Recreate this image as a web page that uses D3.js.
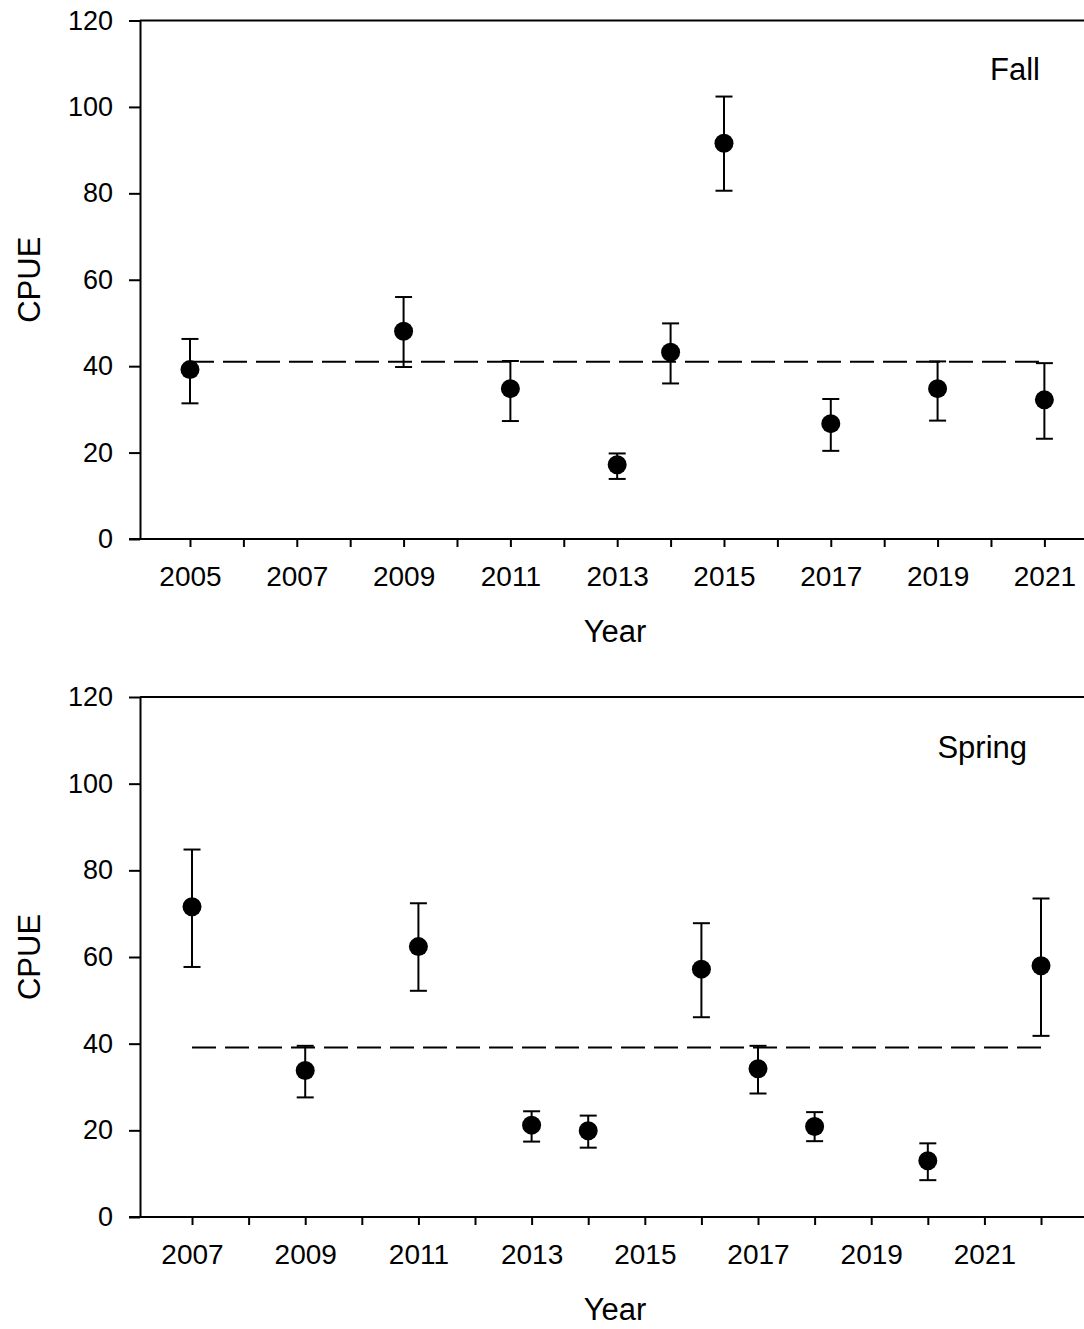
<!DOCTYPE html>
<html>
<head>
<meta charset="utf-8">
<script src="https://cdn.jsdelivr.net/npm/d3@7"></script>
<style>
  body { margin: 0; background: #fff; }
  svg { display: block; font-family: "Liberation Sans", Arial, sans-serif; }
</style>
</head>
<body>
<div id="chart"></div>
<script>
// Fall survey
let fallYears = [2005, 2009, 2011, 2013, 2014, 2015, 2017, 2019, 2021];
let fallMean  = [39.2, 48.1, 34.8, 17.2, 43.2, 91.6, 26.7, 34.8, 32.2];
let fallUpper = [46.3, 56.0, 41.2, 19.8, 49.9, 102.4, 32.4, 41.1, 40.7];
let fallLower = [31.4, 39.8, 27.3, 13.9, 36.0, 80.6, 20.4, 27.4, 23.2];
let fallAverage = 41;
let fallTicks = d3.range(2005, 2022);

// Spring survey
let springYears = [2007, 2009, 2011, 2013, 2014, 2016, 2017, 2018, 2020, 2022];
let springMean  = [71.6, 33.8, 62.4, 21.2, 19.9, 57.2, 34.2, 20.9, 13.0, 58.0];
let springUpper = [84.8, 39.5, 72.4, 24.4, 23.4, 67.8, 39.5, 24.2, 17.0, 73.5];
let springLower = [57.7, 27.6, 52.2, 17.4, 16.0, 46.1, 28.5, 17.5, 8.5, 41.8];
let springAverage = 39.1;
let springTicks = d3.range(2007, 2023);

let yTicks = [0, 20, 40, 60, 80, 100, 120];

let width = 1084;
let height = 1329;
let left = 140;

let svg = d3.select("#chart")
            .append("svg")
            .attr("width", width)
            .attr("height", height);

svg.append("rect").attr("width", width).attr("height", height).attr("fill", "#fff");

function drawPanel(opts) {
  let g = svg.append("g");

  let xScale = d3.scaleLinear()
                 .domain(opts.xDomain)
                 .range([left, opts.xRight]);

  let yScale = d3.scaleLinear()
                 .domain([0, 120])
                 .range([opts.bottom, opts.top]);

  // frame top line
  g.append("line")
   .attr("x1", left).attr("x2", width + 20)
   .attr("y1", yScale(120)).attr("y2", yScale(120))
   .attr("stroke", "#000").attr("stroke-width", 2);

  let xAxis = d3.axisBottom(xScale)
                .tickValues(opts.ticks)
                .tickSize(8)
                .tickSizeOuter(0)
                .tickPadding(19)
                .tickFormat(d => d % 2 === 1 ? d : "");

  let gx = g.append("g")
            .attr("transform", `translate(0, ${opts.bottom})`)
            .call(xAxis);

  let yAxis = d3.axisLeft(yScale)
                .tickValues(yTicks)
                .tickSize(11)
                .tickSizeOuter(0)
                .tickPadding(16);

  let gy = g.append("g")
            .attr("transform", `translate(${left}, 0)`)
            .call(yAxis);

  [gx, gy].forEach(a => {
    a.selectAll("path, line").attr("stroke", "#000").attr("stroke-width", 2);
    a.selectAll("text").attr("fill", "#000").style("font-size", "27px");
  });
  gx.selectAll("text").style("font-size", "28px");
  gx.select(".domain").attr("d", `M${left - 11},0H${width + 20}`);

  // mean line
  let yrs = opts.years;
  g.append("line")
   .attr("x1", xScale(yrs[0])).attr("x2", xScale(yrs[yrs.length - 1]))
   .attr("y1", yScale(opts.average)).attr("y2", yScale(opts.average))
   .attr("stroke", "#000").attr("stroke-width", 2)
   .attr("stroke-dasharray", "24,9");

  let rows = yrs.map((y, i) => ({ year: y, mean: opts.mean[i], hi: opts.upper[i], lo: opts.lower[i] }));

  let bars = g.selectAll(".err").data(rows).enter().append("g").attr("class", "err");
  bars.append("line")
      .attr("x1", d => xScale(d.year)).attr("x2", d => xScale(d.year))
      .attr("y1", d => yScale(d.hi)).attr("y2", d => yScale(d.lo))
      .attr("stroke", "#000").attr("stroke-width", 2);
  ["hi", "lo"].forEach(k => {
    bars.append("line")
        .attr("x1", d => xScale(d.year) - 8.5).attr("x2", d => xScale(d.year) + 8.5)
        .attr("y1", d => yScale(d[k])).attr("y2", d => yScale(d[k]))
        .attr("stroke", "#000").attr("stroke-width", 2);
  });

  g.selectAll(".dot").data(rows).enter().append("circle")
   .attr("class", "dot")
   .attr("cx", d => xScale(d.year))
   .attr("cy", d => yScale(d.mean))
   .attr("r", 9.5)
   .attr("fill", "#000");

  // labels
  g.append("text")
   .attr("x", opts.labelX).attr("y", opts.labelY)
   .attr("text-anchor", "end")
   .style("font-size", "31px")
   .text(opts.label);

  g.append("text")
   .attr("x", 615).attr("y", opts.bottom + 103)
   .attr("text-anchor", "middle")
   .style("font-size", "31px")
   .text("Year");

  g.append("text")
   .attr("transform", `translate(40, ${yScale(60)}) rotate(-90)`)
   .attr("text-anchor", "middle")
   .style("font-size", "31px")
   .text("CPUE");
}

drawPanel({
  years: fallYears, mean: fallMean, upper: fallUpper, lower: fallLower,
  average: fallAverage, ticks: fallTicks,
  xDomain: [2004.064, 2022], xRight: 140 + 17.936 * 53.4,
  top: 20.5, bottom: 539,
  label: "Fall", labelX: 1040, labelY: 80
});

drawPanel({
  years: springYears, mean: springMean, upper: springUpper, lower: springLower,
  average: springAverage, ticks: springTicks,
  xDomain: [2006.081, 2023], xRight: 140 + 16.919 * 56.6,
  top: 697, bottom: 1217,
  label: "Spring", labelX: 1027, labelY: 758
});
</script>
</body>
</html>
